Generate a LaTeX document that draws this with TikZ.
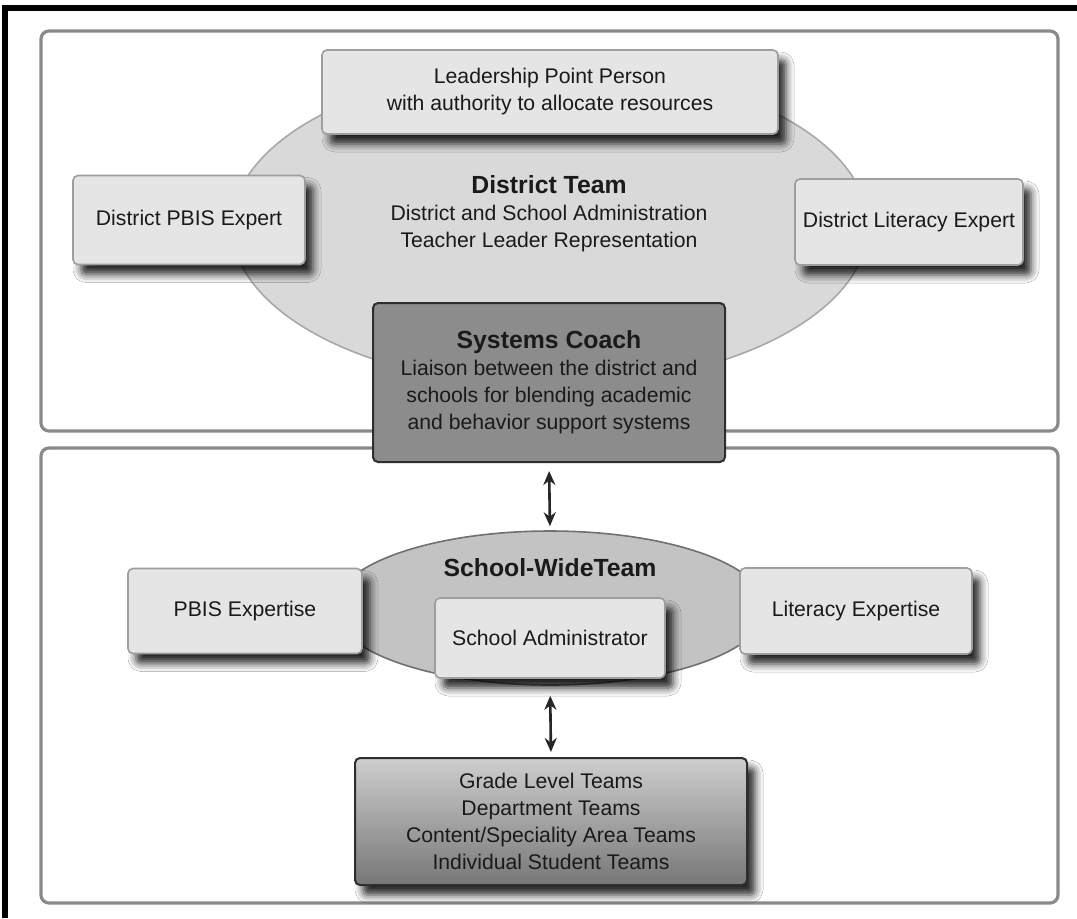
\documentclass[tikz,border=0pt]{standalone}
\usepackage{fontspec}
\setmainfont{Liberation Sans}
\usepackage{xcolor}
\usepackage{tikz}
\usetikzlibrary{shapes.geometric, arrows.meta, shadows.blur}

\definecolor{panelgray}{HTML}{8A8A8A}
\definecolor{boxfill}{HTML}{E5E5E5}
\definecolor{boxline}{HTML}{9E9E9E}
\definecolor{ovalfill}{HTML}{D9D9D9}
\definecolor{ovalline}{HTML}{A8A8A8}
\definecolor{schoolfill}{HTML}{C3C3C3}
\definecolor{schoolline}{HTML}{707070}
\definecolor{coachfill}{HTML}{8C8C8C}
\definecolor{darkline}{HTML}{2E2E2E}
\definecolor{ink}{HTML}{1A1A1A}

\newcommand{\bodyfont}{\fontsize{10.6}{13.5}\selectfont}
\newcommand{\headfont}{\fontsize{12.4}{14}\selectfont\bfseries}

\tikzstyle{softshadow} = [blur shadow={shadow xshift=4pt, shadow yshift=-5pt, shadow blur radius=4pt, shadow opacity=85}]
\tikzstyle{panel} = [draw=panelgray, line width=1.6pt, rounded corners=4pt, fill=white]
\tikzstyle{expert} = [rectangle, rounded corners=2.5pt, draw=boxline, line width=0.8pt, fill=boxfill, text=ink, font=\bodyfont, align=center, inner sep=0pt, softshadow]
\tikzstyle{oval} = [ellipse, inner sep=0pt, line width=0.8pt]
\tikzstyle{coachbox} = [rectangle, rounded corners=2.5pt, draw=darkline, line width=1pt, fill=coachfill, text=ink, font=\bodyfont, align=center, inner sep=0pt]
\tikzstyle{teambox} = [rectangle, rounded corners=2.5pt, draw=darkline, line width=1pt, top color=boxfill!90!black, bottom color=coachfill!85!black, text=ink, font=\bodyfont, align=center, inner sep=0pt, softshadow]
\tikzstyle{arrow} = [line width=1.3pt, {Stealth[length=7pt,width=6pt]}-{Stealth[length=7pt,width=6pt]}, draw=black!85]

\begin{document}
\begin{tikzpicture}[x=0.5pt, y=-0.5pt]
        \useasboundingbox (0,0) rectangle (1077,918);
        % page frame
        \draw [line width=3pt, black] (5,918) -- (5,8) -- (1077,8);

        % the two panels
        \draw [panel] (41,31) rectangle (1058,431);
        \draw [panel] (41,448) rectangle (1058,903);

        % district level
        \node (distoval) [oval, fill=ovalfill, draw=ovalline, minimum width=318pt, minimum height=160pt] at (550,226) {};
        \node (lead) [expert, minimum width=228pt, minimum height=42pt] at (550,92) {Leadership Point Person\\with authority to allocate resources};
        \node (pbisexpert) [expert, minimum width=116pt, minimum height=44.5pt] at (189,220) {District PBIS Expert};
        \node (litexpert) [expert, minimum width=114pt, minimum height=43pt] at (909,222) {District Literacy Expert};
        \node (distteam) [text=ink, font=\bodyfont, align=center] at (549,214) {{\headfont District Team}\\District and School Administration\\Teacher Leader Representation};
        \node (coach) [coachbox, minimum width=176pt, minimum height=79.5pt] at (549,382.5) {{\headfont Systems Coach}\\Liaison between the district and\\schools for blending academic\\and behavior support systems};

        % school level
        \node (schooloval) [oval, fill=schoolfill, draw=schoolline, minimum width=216pt, minimum height=77pt] at (550,608) {};
        \node (schoolteam) [text=ink, font=\headfont] at (550,568) {School-WideTeam};
        \node (pbis) [expert, minimum width=117pt, minimum height=42.5pt] at (245,611) {PBIS Expertise};
        \node (lit) [expert, minimum width=116pt, minimum height=43pt] at (856,611) {Literacy Expertise};
        \node (admin) [expert, minimum width=115pt, minimum height=40pt] at (550,638) {School Administrator};
        \node (teams) [teambox, minimum width=196pt, minimum height=63.5pt] at (551,821.5) {Grade Level Teams\\Department Teams\\Content/Speciality Area Teams\\Individual Student Teams};

        \draw [arrow, shorten <=4pt, shorten >=2pt] (coach.south) -- (schooloval.north);
        \draw [arrow, shorten <=8.5pt, shorten >=2.5pt] (admin.south) -- (teams.north);
    \end{tikzpicture}
\end{document}
